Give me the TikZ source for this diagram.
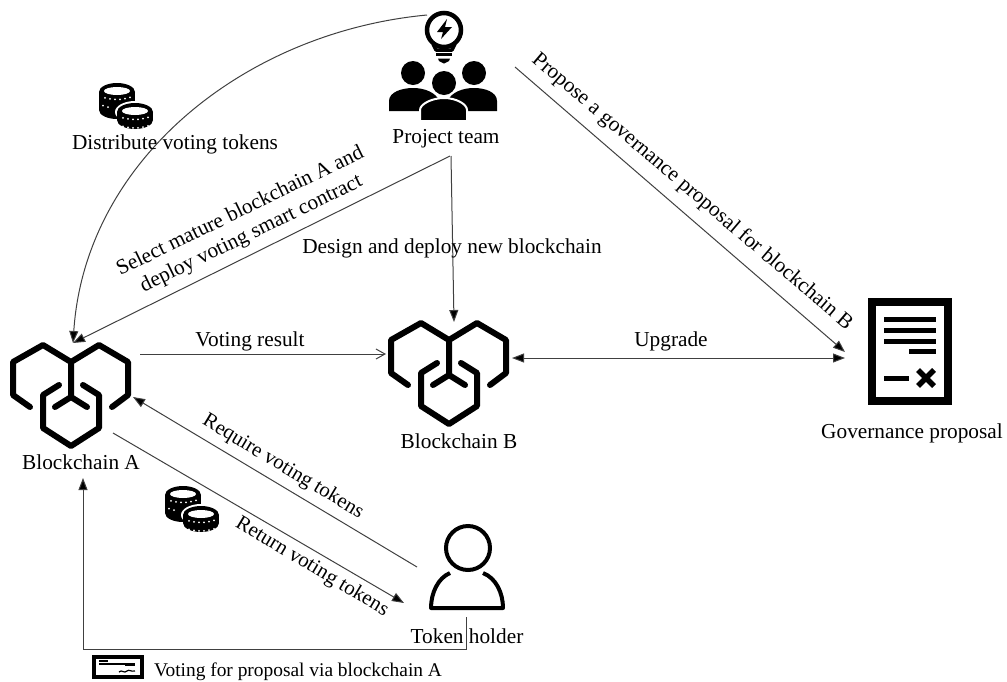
\documentclass[tikz,border=0pt]{standalone}
\usepackage{fontspec}
\setmainfont{Liberation Serif}
\usetikzlibrary{arrows.meta}

\tikzset{
	label/.style={font=\fontsize{21.3}{25}\selectfont, inner sep=0pt, align=center},
	flow/.style={draw=black!75, line width=1pt, -{Triangle[length=12pt,width=9pt,fill=black]}},
	plainflow/.style={draw=black!75, line width=1pt},
	chainicon/.pic={
		\draw[line width=6pt, line cap=round, line join=round]
			(-41,12) -- (-58,0) -- (-58,-33) -- (-28,-50) -- (0,-33) -- (28,-50) -- (57,-33) -- (57,0) -- (41,12);
		\draw[line width=6pt, line cap=round, line join=round] (0,-33) -- (0,2) -- (-16,12);
		\draw[line width=6pt, line cap=round, line join=round] (0,2) -- (16,12);
		\draw[line width=6pt, line cap=round, line join=round]
			(-12,-10) -- (-28,0) -- (-28,33) -- (0,51) -- (28,33) -- (28,0) -- (12,-10);
	},
	coinstack/.pic={
		\fill (-18,0) rectangle (18,#1);
		\fill (0,#1) ellipse [x radius=18, y radius=9];
		\fill (0,0) ellipse [x radius=18, y radius=9];
		\fill[white] (0,-1) ellipse [x radius=13, y radius=4];
		\foreach \i in {-12,-7,-2,3,8,13}
			\fill[white] (\i,{7.5-0.012*\i*\i}) circle (1);
	},
	coinicon/.pic={
		\pic {coinstack=18};
		\foreach \i in {-14,-9}
			\fill[white] (\i,{16-0.012*\i*\i}) circle (1);
		\fill[white] (18,20) ellipse [x radius=20, y radius=11];
		\pic at (18,20) {coinstack=8};
		\foreach \i in {6,11,16,21,26,31}
			\fill[white] (\i,{36-0.012*(\i-18)*(\i-18)}) circle (1);
	},
	teamicon/.pic={
		% bulb
		\draw[line width=4.5pt] (0,0) circle (17);
		\draw[line width=3.5pt, line join=round] (-11,14) -- (-8,20) -- (8,20) -- (11,14);
		\fill (3,-11) -- (-7,2) -- (-1,2) -- (-3,9) -- (8,-3) -- (1,-3) -- cycle;
		\fill (-8,23) rectangle (8,26);
		\fill (-6,28.5) -- (6,28.5) -- (5,31) -- (0,33.5) -- (-5,31) -- cycle;
		% people
		\fill (-31,43) circle (12);
		\fill (30,43) circle (12);
		\fill (-55,81) -- (-55,71) .. controls (-55,62) and (-42,58) .. (-31,58) .. controls (-20,58) and (-8,62) .. (-4,72) -- (-14,81) -- cycle;
		\fill (53,81) -- (53,71) .. controls (53,62) and (41,58) .. (30,58) .. controls (19,58) and (7,62) .. (3,72) -- (13,81) -- cycle;
		\fill (0,53) circle (12);
		\filldraw[draw=white, line width=2pt] (-24,91) -- (-24,80) .. controls (-24,74) and (-12,68) .. (0,68) .. controls (12,68) and (23,74) .. (23,80) -- (23,91) -- cycle;
	},
	docicon/.pic={
		\draw[line width=8pt] (-38,-49) rectangle (38,50);
		\foreach \i in {-32,-21,-10}
			\draw[line width=5pt] (-26,\i) -- (26,\i);
		\draw[line width=5pt] (-1,0) -- (26,0);
		\draw[line width=5pt] (-26,27) -- (-1,27);
		\draw[line width=5.5pt] (8,19) -- (24,35);
		\draw[line width=5.5pt] (24,19) -- (8,35);
	},
	holdericon/.pic={
		\draw[line width=4pt] (0,0) circle (22);
		\draw[line width=4pt, line join=round] (-18,25) .. controls (-30,30) and (-37,45) .. (-37,60) -- (35,60) .. controls (35,45) and (28,30) .. (15,25);
	},
	ballot/.pic={
		\draw[line width=3.5pt] (-23,-10) rectangle (25,10);
		\draw[line width=1.2pt] (-18,-3) -- (18,-3);
		\draw[line width=1.5pt] (-18,-6) -- (-9,-6);
		\draw[line width=2.2pt] (8,-2) -- (18,-2);
		\draw[line width=1.2pt] (2,5) .. controls (5,2) and (7,7) .. (10,4) .. controls (12,2) and (14,5) .. (18,4);
	},
}

\begin{document}
\begin{tikzpicture}[x=1pt, y=-1pt]
	\useasboundingbox (0,0) rectangle (1007,681);

	% icons
	\pic at (444,30) {teamicon};
	\pic at (71,395) {chainicon};
	\pic at (449,373) {chainicon};
	\pic at (910,351) {docicon};
	\pic at (468,548) {holdericon};
	\pic at (117,92) {coinicon};
	\pic at (183,495) {coinicon};
	\pic at (117,667) {ballot};

	% connector ends
	\coordinate (teamBulb) at (427,15);
	\coordinate (teamLeft) at (450,156);
	\coordinate (teamDown) at (451,156);
	\coordinate (teamRight) at (515,67);
	\coordinate (chainTop) at (73,343);
	\coordinate (chainRight) at (140,354);
	\coordinate (chainSide) at (133,397);
	\coordinate (chainLow) at (113,433);
	\coordinate (chainFoot) at (83,478);
	\coordinate (nextLeft) at (386,354);
	\coordinate (nextTop) at (454,322);
	\coordinate (nextRight) at (512,358);
	\coordinate (docTop) at (845,352);
	\coordinate (docLeft) at (845,358);
	\coordinate (holderSide) at (417,567);
	\coordinate (holderIn) at (404,603);
	\coordinate (holderFoot) at (466,617);
	\coordinate (footBend) at (466,649);
	\coordinate (footCorner) at (83,649);

	% connectors
	\draw[flow] (teamBulb) .. controls (245,32) and (85,160) .. (chainTop);
	\draw[flow] (teamLeft) -- (chainTop);
	\draw[flow] (teamDown) -- (nextTop);
	\draw[flow] (teamRight) -- (docTop);
	\draw[plainflow, -{Straight Barb[length=9pt,width=10pt]}] (chainRight) -- (nextLeft);
	\draw[flow, {Triangle[length=12pt,width=9pt,fill=black]}-{Triangle[length=12pt,width=9pt,fill=black]}] (nextRight) -- (docLeft);
	\draw[flow] (holderSide) -- (chainSide);
	\draw[flow] (chainLow) -- (holderIn);
	\draw[flow] (holderFoot) -- (footBend) -- (footCorner) -- (chainFoot);

	% labels
	\node[label] (teamName) at (446,139) {Project team};
	\node[label] (chainAName) at (81,462) {Blockchain A};
	\node[label] (chainBName) at (459,441) {Blockchain B};
	\node[label] (docName) at (912,433) {Governance proposal};
	\node[label] (holderName) at (467,636) {Token holder};
	\node[label] (distText) at (175,144) {Distribute voting tokens};
	\node[label, rotate=26] (selectText) at (246,223) {Select mature blockchain A and\\deploy voting smart contract};
	\node[label] (designText) at (452,248) {Design and deploy new blockchain};
	\node[label, rotate=-40.5] (proposeText) at (692,192) {Propose a governance proposal for blockchain B};
	\node[label] (resultText) at (250,341) {Voting result};
	\node[label] (upgradeText) at (671,341) {Upgrade};
	\node[label, rotate=-31, font=\fontsize{20.8}{24}\selectfont] (requireText) at (283,467) {Require voting tokens};
	\node[label, rotate=-31, font=\fontsize{20.8}{24}\selectfont] (returnText) at (312,567) {Return voting tokens};
	\node[label, font=\fontsize{19.4}{22}\selectfont] (voteText) at (298,672) {Voting for proposal via blockchain A};
\end{tikzpicture}
\end{document}
